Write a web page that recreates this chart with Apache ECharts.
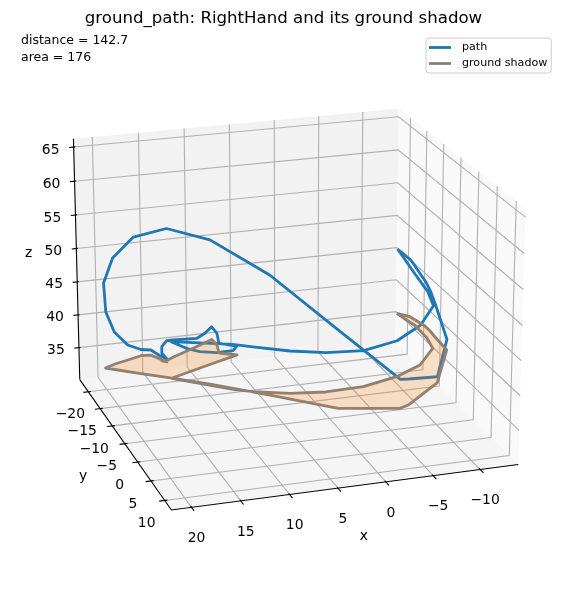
<!DOCTYPE html>
<html><head><meta charset="utf-8"><style>html,body{margin:0;background:#fff}#c{width:567px;height:590px}</style></head>
<body><div id="c"></div>
<script src="https://cdn.jsdelivr.net/npm/echarts@6/dist/echarts.min.js"></script>
<script>
// Values
const pathX=[-12.59,-13.60,-14.14,-14.12,-13.99,-13.80,-9.54,-4.61,-3.52,2.37,7.81,12.63,16.29,19.13,20.95,21.78,21.53,20.55,18.96,17.34,16.30,15.69,15.24,15.66,15.69,15.12,14.27,10.98,9.86,8.91,8.84,9.32,7.69,8.21,10.30,12.44,14.14,16.04,10.92,9.18,5.73,2.14,-1.96,-6.15,-9.60,-12.57,-13.07,-13.17];
const pathY=[-19.38,-17.93,-14.72,-13.11,-11.24,-7.23,1.25,6.06,6.63,4.71,-0.82,-5.48,-8.61,-10.99,-12.57,-13.29,-13.63,-14.10,-14.80,-15.58,-15.40,-14.07,-12.98,-13.42,-13.28,-13.39,-14.10,-16.37,-17.19,-17.89,-16.14,-13.81,-12.66,-12.40,-11.37,-10.26,-9.37,-8.36,-3.48,-2.22,-0.64,0.15,-0.05,-1.62,-4.00,-8.15,-11.22,-15.20];
const pathZ=[46.91,45.73,43.78,42.99,41.86,38.61,37.88,40.76,41.18,48.17,54.27,57.89,58.67,56.82,53.37,49.53,45.09,41.76,39.24,37.93,37.78,37.48,37.45,38.15,39.21,39.96,39.59,38.24,38.43,38.95,38.77,38.46,38.35,37.86,38.39,39.42,40.63,42.39,43.56,43.54,43.15,42.72,42.27,42.30,42.94,43.41,44.02,44.72];
const groundZ=37;
const xLim=[-14.10,22.03], yLim=[-23.73,12.40], zLim=[30.08,66.22];
const xTicks=[-10,-5,0,5,10,15,20], yTicks=[-20,-15,-10,-5,0,5,10], zTicks=[35,40,45,50,55,60,65];
const titleText='ground_path: RightHand and its ground shadow';
const noteText='distance = 142.7\narea = 176';

// matplotlib-style perspective camera
const FONT='"DejaVu Sans"';
const elev=20*Math.PI/180, azim=72*Math.PI/180, camDist=10;
const aspect=[4,4,3].map(v=>v*1.8294640721620434*25/24/Math.sqrt(41));
const W=[Math.cos(elev)*Math.cos(azim),Math.cos(elev)*Math.sin(azim),Math.sin(elev)];
const eye=aspect.map((v,i)=>v/2+camDist*W[i]);
const U=(()=>{const n=Math.hypot(W[0],W[1]);return [-W[1]/n,W[0]/n,0];})();
const V=[W[1]*U[2]-W[2]*U[1],W[2]*U[0]-W[0]*U[2],W[0]*U[1]-W[1]*U[0]];
const dot=(a,b)=>a[0]*b[0]+a[1]*b[1]+a[2]*b[2];
function project(x,y,z){
  const n=[(x-xLim[0])/(xLim[1]-xLim[0]),(y-yLim[0])/(yLim[1]-yLim[0]),(z-zLim[0])/(zLim[1]-zLim[0])];
  const d=n.map((c,i)=>c*aspect[i]-eye[i]);
  const k=-dot(d,W);
  return [2964.03*dot(d,U)/k+291.26,-2959.69*dot(d,V)/k+298.25];
}
const [x0,x1]=xLim,[y0,y1]=yLim,[z0,z1]=zLim;
const pathPts=pathX.map((x,i)=>project(x,pathY[i],pathZ[i]));
const shadowPts=pathX.map((x,i)=>project(x,pathY[i],groundZ));
const closed=a=>a.concat([a[0]]);

function lineEl(api,pts,color,w){return {type:'polyline',silent:true,shape:{points:pts.map(p=>api.coord(p))},style:{stroke:color,lineWidth:w,fill:null}};}
function fillEl(api,pts,fill,stroke,w){return {type:'polygon',silent:true,shape:{points:pts.map(p=>api.coord(p))},style:{fill,stroke:stroke||null,lineWidth:w||0,lineJoin:'round'}};}
function textEl(api,p,text,size){const c=api.coord(p);return {type:'text',silent:true,x:c[0],y:c[1],style:{text,fill:'#000',font:`${size}px ${FONT}`,align:'center',verticalAlign:'middle'}};}
const neg=v=>String(v).replace('-','\u2212');

const GRID='#b0b0b0', GW=1.1;
function renderBack(params,api){
  const ch=[];
  ch.push(fillEl(api,[project(x1,y0,z0),project(x0,y0,z0),project(x0,y0,z1),project(x1,y0,z1)],'#f2f2f2'));
  ch.push(fillEl(api,[project(x0,y0,z0),project(x0,y1,z0),project(x0,y1,z1),project(x0,y0,z1)],'#f9f9f9'));
  ch.push(fillEl(api,[project(x0,y0,z0),project(x1,y0,z0),project(x1,y1,z0),project(x0,y1,z0)],'#f5f5f5'));
  xTicks.forEach(t=>ch.push(lineEl(api,[project(t,y0,z1),project(t,y0,z0),project(t,y1,z0)],GRID,GW)));
  yTicks.forEach(t=>ch.push(lineEl(api,[project(x0,t,z1),project(x0,t,z0),project(x1,t,z0)],GRID,GW)));
  zTicks.forEach(t=>ch.push(lineEl(api,[project(x1,y0,t),project(x0,y0,t),project(x0,y1,t)],GRID,GW)));
  return {type:'group',children:ch};
}
function renderAxes(params,api){
  const ch=[], K='#000';
  ch.push(lineEl(api,[project(x1,y0,z0),project(x1,y1,z0),project(x0,y1,z0)],K,1.1));
  ch.push(lineEl(api,[project(x1,y0,z0),project(x1,y0,z1)],K,1.1));
  xTicks.forEach(t=>{
    ch.push(lineEl(api,[project(t,y1-0.3,z0),project(t,y1+0.9,z0)],K,1.1));
    const p=project(t,y1,z0); ch.push(textEl(api,[p[0]+5,p[1]+31],neg(t),13.9));
  });
  yTicks.forEach(t=>{
    ch.push(lineEl(api,[project(x1-0.28,t,z0),project(x1+0.55,t,z0)],K,1.1));
    const p=project(x1,t,z0); ch.push(textEl(api,[p[0]-18,p[1]+23],neg(t),13.9));
  });
  zTicks.forEach(t=>{
    ch.push(lineEl(api,[project(x1-0.17,y0,t),project(x1+0.5,y0,t)],K,1.1));
    const p=project(x1,y0,t); ch.push(textEl(api,[p[0]-23,p[1]+3],neg(t),13.9));
  });
  const mx=project((x0+x1)/2,y1,z0), my=project(x1,(y0+y1)/2,z0), mz=project(x1,y0,(z0+z1)/2);
  ch.push(textEl(api,[mx[0]+16,mx[1]+50],'x',13.9));
  ch.push(textEl(api,[my[0]-40,my[1]+35],'y',13.9));
  ch.push(textEl(api,[mz[0]-48,mz[1]-8],'z',13.9));
  return {type:'group',children:ch};
}
function renderFill(params,api){
  return fillEl(api,shadowPts,'rgba(255,127,14,0.21)','rgba(255,127,14,0.12)',1.2);
}
const chart=echarts.init(document.getElementById('c'),null,{renderer:'canvas'});
chart.setOption({
  animation:false, backgroundColor:'#fff',
  title:[
    {text:titleText,left:'center',top:5,textStyle:{fontFamily:FONT,fontSize:16.6,fontWeight:'normal',color:'#000'}},
    {text:noteText,left:16,top:27,textStyle:{fontFamily:FONT,fontSize:12.5,fontWeight:'normal',color:'#000',lineHeight:17}}
  ],
  legend:{orient:'vertical',left:426,top:38,padding:[3,4,3,3],itemGap:3,itemWidth:22,itemHeight:2.8,icon:'rect',
    backgroundColor:'rgba(255,255,255,0.8)',borderColor:'#ccc',borderWidth:1,borderRadius:3,
    textStyle:{fontFamily:FONT,fontSize:11.1,color:'#000',padding:[0,0,0,6],lineHeight:13},
    data:['path','ground shadow']},
  grid:{left:0,top:0,width:567,height:590,containLabel:false},
  xAxis:{type:'value',min:0,max:567,show:false},
  yAxis:{type:'value',min:0,max:590,inverse:true,show:false},
  tooltip:{show:false},
  series:[
    {type:'custom',coordinateSystem:'cartesian2d',renderItem:renderBack,data:[[0,0]],z:1,clip:false,silent:true},
    {name:'path',type:'line',data:closed(pathPts),showSymbol:false,symbol:'none',z:3,clip:false,silent:true,
      lineStyle:{color:'#1f77b4',width:2.8,join:'round'},itemStyle:{color:'#1f77b4'}},
    {name:'ground shadow',type:'line',data:closed(shadowPts),showSymbol:false,symbol:'none',z:4,clip:false,silent:true,
      lineStyle:{color:'#808080',width:2.8,join:'round'},itemStyle:{color:'#808080'}},
    {type:'custom',coordinateSystem:'cartesian2d',renderItem:renderFill,data:[[0,0]],z:5,clip:false,silent:true},
    {type:'custom',coordinateSystem:'cartesian2d',renderItem:renderAxes,data:[[0,0]],z:6,clip:false,silent:true}
  ]
});
</script></body></html>
